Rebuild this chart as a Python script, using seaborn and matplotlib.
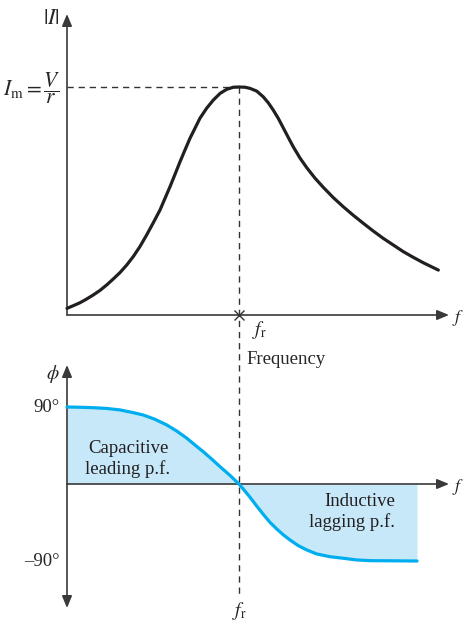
import matplotlib
matplotlib.use("Agg")
import matplotlib.pyplot as plt
import pandas as pd
import seaborn as sns

# Resonance curve of a series RLC circuit: current magnitude vs frequency (f / f_r)
freq_current = [0.0, 0.037, 0.076, 0.114, 0.153, 0.192, 0.231, 0.269, 0.308, 0.347,
                0.385, 0.424, 0.463, 0.502, 0.541, 0.570, 0.599, 0.628, 0.657, 0.686,
                0.715, 0.744, 0.773, 0.812, 0.851, 0.890, 0.929, 0.967, 1.0, 1.035,
                1.064, 1.103, 1.141, 1.170, 1.199, 1.228, 1.258, 1.287, 1.316, 1.355,
                1.394, 1.442, 1.490, 1.548, 1.606, 1.665, 1.723, 1.781, 1.839, 1.897,
                1.955, 2.013, 2.072, 2.110, 2.159]
current = [0.029, 0.041, 0.054, 0.070, 0.088, 0.108, 0.132, 0.158, 0.186, 0.219,
           0.256, 0.300, 0.351, 0.405, 0.461, 0.512, 0.563, 0.617, 0.672, 0.724,
           0.775, 0.819, 0.863, 0.907, 0.943, 0.972, 0.990, 0.999, 1.0, 0.999,
           0.994, 0.982, 0.957, 0.931, 0.899, 0.863, 0.820, 0.778, 0.737, 0.688,
           0.646, 0.600, 0.560, 0.515, 0.475, 0.437, 0.402, 0.368, 0.336, 0.307,
           0.278, 0.253, 0.229, 0.215, 0.197]

# Phase angle (degrees) vs frequency (f / f_r)
freq_phase = [0.0, 0.076, 0.153, 0.231, 0.308, 0.376, 0.444, 0.512, 0.580, 0.638,
              0.696, 0.744, 0.792, 0.841, 0.890, 0.948, 1.0, 1.025, 1.064, 1.103,
              1.141, 1.180, 1.219, 1.258, 1.297, 1.345, 1.394, 1.452, 1.529, 1.606,
              1.684, 1.762, 1.839, 2.035]
phase = [90.0, 89.7, 89.2, 88.3, 86.6, 83.8, 80.6, 75.6, 69.0, 61.9,
         53.6, 45.6, 37.8, 29.2, 20.2, 10.0, 0.0, -6.0, -15.5, -25.8,
         -35.5, -44.8, -52.5, -59.5, -65.5, -72.1, -77.1, -81.8, -85.0, -86.8,
         -88.8, -89.6, -89.7, -90.0]

phase_ticks = [90, -90]
phase_tick_labels = ["90°", "–90°"]
resonance = 1.0

sns.set_style("white")
plt.rcParams["font.family"] = ["Liberation Serif", "DejaVu Serif"]
plt.rcParams["mathtext.fontset"] = "stix"

W, H = 464, 622
fig = plt.figure(figsize=(W / 100, H / 100), dpi=100)

AX_COL = "#3a3a3a"
CURVE = "#231f20"
BLUE_LINE = "#00aeef"
BLUE_FILL = "#c6e8f8"

# pixel layout helpers
X0, XS = 67, 172.0              # f = 0 at x px, px per f_r
xlim = (-X0 / XS, (W - X0) / XS)

def fx(px):
    return (px - X0) / XS

# upper panel: |I| / I_m
I0, IS = 315, 228.0
ax1 = fig.add_axes([0, 0, 1, 1])
ax1.set_xlim(*xlim)
ax1.set_ylim((I0 - H) / IS, I0 / IS)

# lower panel: phase in degrees
P0, PS = 484, 77 / 90.0
ax2 = fig.add_axes([0, 0, 1, 1])
ax2.set_xlim(*xlim)
ax2.set_ylim((P0 - H) / PS, P0 / PS)

for ax in (ax1, ax2):
    ax.set_axis_off()
    ax.patch.set_visible(False)

arrow_kw = dict(arrowstyle="-|>,head_length=0.6,head_width=0.25", lw=1.2,
                color=AX_COL, mutation_scale=12, shrinkA=0, shrinkB=0)

# axes of the upper panel
ax1.annotate("", xy=(0, (I0 - 14) / IS), xytext=(0, 0), arrowprops=arrow_kw)
ax1.annotate("", xy=(fx(449), 0), xytext=(0, 0), arrowprops=arrow_kw)

# axes of the lower panel
ax2.annotate("", xy=(0, (P0 - 365) / PS), xytext=(0, 0), arrowprops=arrow_kw)
ax2.annotate("", xy=(0, (P0 - 608) / PS), xytext=(0, 0), arrowprops=arrow_kw)
ax2.annotate("", xy=(fx(449), 0), xytext=(0, 0), arrowprops=arrow_kw)

# guide lines at resonance
dash_kw = dict(color="#333333", lw=1.0, ls=(0, (4.5, 3.5)))
ax1.plot([0, resonance], [1, 1], **dash_kw)
ax1.plot([resonance, resonance], [1, (I0 - 598) / IS], **dash_kw)
ax1.plot([resonance], [0], marker="x", ms=7, mew=1.0, color="#333333", zorder=5)

# current curve
df_i = pd.DataFrame({"f": freq_current, "I": current})
sns.lineplot(data=df_i, x="f", y="I", ax=ax1, color=CURVE, lw=2.3,
             estimator=None, sort=False, zorder=4, solid_joinstyle="round")

# phase curve with shaded region
df_p = pd.DataFrame({"f": freq_phase, "phi": phase})
ax2.fill_between(df_p["f"], df_p["phi"], 0, color=BLUE_FILL, lw=0, zorder=1)
sns.lineplot(data=df_p, x="f", y="phi", ax=ax2, color=BLUE_LINE, lw=2.3,
             estimator=None, sort=False, zorder=3, solid_joinstyle="round")

# text
def px(x, y):
    return x / W, 1 - y / H

fs = 13.5
fig.text(*px(51, 19), r"$|I|$", fontsize=16, ha="center", va="center")
fig.text(*px(61, 88), r"$I_{\rm m}=\dfrac{V}{r}$", fontsize=15.5, ha="right", va="center")
fig.text(*px(452, 318), r"$f$", fontsize=13, ha="left", va="center")
fig.text(*px(259, 330), r"$f_{\rm r}$", fontsize=14, ha="center", va="center")
fig.text(*px(246, 359), "Frequency", fontsize=fs, ha="left", va="center")

fig.text(*px(53, 374), r"$\phi$", fontsize=14, ha="center", va="center")
for v, lab in zip(phase_ticks, phase_tick_labels):
    fig.text(*px(60, P0 - v * PS + 1), lab, fontsize=fs, ha="right", va="center")
fig.text(*px(452, 487), r"$f$", fontsize=13, ha="left", va="center")
fig.text(*px(239, 611), r"$f_{\rm r}$", fontsize=14, ha="center", va="center")

fig.text(*px(128, 459), "Capacitive\nleading p.f.", fontsize=fs, ha="center",
         va="center", linespacing=1.25, color="#231f20")
fig.text(*px(395, 512), "Inductive\nlagging p.f.", fontsize=fs, ha="right",
         va="center", linespacing=1.25, multialignment="right", color="#231f20")

fig.savefig("out.png", dpi=100)
